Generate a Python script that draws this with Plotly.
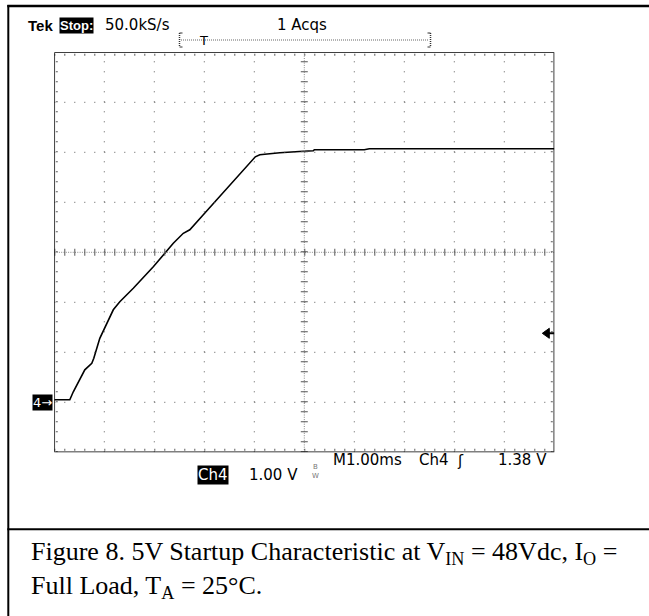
import plotly.graph_objects as go

W, H = 649, 616

# ---- data (time in ms from left edge of screen, Ch4 voltage in V) ----
time_ms = [0.00, 0.31, 0.38, 0.61, 0.75, 0.79, 0.91, 1.01, 1.08, 1.18, 1.31, 1.58,
           1.98, 2.18, 2.38, 2.58, 2.71, 2.98, 3.25, 3.71, 4.02, 4.11, 4.51, 4.98,
           5.18, 5.20, 6.20, 6.30, 10.00]
volts = [0.05, 0.05, 0.21, 0.65, 0.78, 0.88, 1.28, 1.48, 1.65, 1.85, 2.01, 2.28,
         2.71, 2.95, 3.18, 3.38, 3.45, 3.75, 4.05, 4.55, 4.91, 4.95, 4.99, 5.02,
         5.03, 5.05, 5.05, 5.07, 5.07]

x_divs = list(range(0, 11))      # 1.00 ms / div
y_divs = list(range(-1, 8))      # 1.00 V / div
x_center = 5
y_center = 3
ch4_ground = 0.0
trigger_level = 1.38

header_texts = ["Tek", "Stop:", "50.0kS/s", "1 Acqs"]
footer_texts = ["M1.00ms", "Ch4", "1.38 V", "Ch4", "1.00 V"]
caption = ("Figure 8. 5V Startup Characteristic at V<sub>IN</sub> = 48Vdc, I<sub>O</sub> ="
           "<br>Full Load, T<sub>A</sub> = 25°C.")


def px(x):
    return x / W


def py(y):
    return 1 - y / H


PL, PR, PT, PB = 54.3, 554.3, 52.3, 452.3

fig = go.Figure()
fig.add_trace(go.Scatter(x=time_ms, y=volts, mode="lines",
                         line=dict(color="black", width=1.6),
                         hoverinfo="skip", showlegend=False))

shapes = []
GRID = "#5a5a5a"
# dotted graticule
for xv in x_divs[1:-1]:
    if xv == x_center:
        continue
    shapes.append(dict(type="line", xref="x", yref="y", x0=xv, x1=xv,
                       y0=y_divs[0], y1=y_divs[-1],
                       line=dict(color=GRID, width=1, dash="1px,9px")))
for yv in y_divs[1:-1]:
    if yv == y_center:
        continue
    shapes.append(dict(type="line", xref="x", yref="y", y0=yv, y1=yv,
                       x0=x_divs[0], x1=x_divs[-1],
                       line=dict(color=GRID, width=1, dash="1px,9px")))
# center cross: dense dots + tick marks
shapes.append(dict(type="line", xref="x", yref="y", x0=x_center, x1=x_center,
                   y0=y_divs[0], y1=y_divs[-1],
                   line=dict(color="#888888", width=1, dash="1px,1.3px")))
shapes.append(dict(type="line", xref="x", yref="y", y0=y_center, y1=y_center,
                   x0=x_divs[0], x1=x_divs[-1],
                   line=dict(color="#888888", width=1, dash="1px,1.3px")))
shapes.append(dict(type="line", xref="x", yref="y", x0=x_center, x1=x_center,
                   y0=y_divs[0], y1=y_divs[-1],
                   line=dict(color="#555555", width=7, dash="1px,9px")))
shapes.append(dict(type="line", xref="x", yref="y", y0=y_center, y1=y_center,
                   x0=x_divs[0], x1=x_divs[-1],
                   line=dict(color="#555555", width=7, dash="1px,9px")))
# edge ticks
shapes.append(dict(type="line", xref="x", xsizemode="pixel", xanchor=x_divs[0],
                   x0=2.5, x1=2.5, yref="y", y0=y_divs[0], y1=y_divs[-1],
                   line=dict(color=GRID, width=2, dash="1px,9px")))
shapes.append(dict(type="line", xref="x", xsizemode="pixel", xanchor=x_divs[-1],
                   x0=-2.5, x1=-2.5, yref="y", y0=y_divs[0], y1=y_divs[-1],
                   line=dict(color=GRID, width=2, dash="1px,9px")))
shapes.append(dict(type="line", yref="y", ysizemode="pixel", yanchor=y_divs[-1],
                   y0=-2.5, y1=-2.5, xref="x", x0=x_divs[0], x1=x_divs[-1],
                   line=dict(color=GRID, width=2, dash="1px,9px")))
shapes.append(dict(type="line", yref="y", ysizemode="pixel", yanchor=y_divs[0],
                   y0=2.5, y1=2.5, xref="x", x0=x_divs[0], x1=x_divs[-1],
                   line=dict(color=GRID, width=2, dash="1px,9px")))
# frame
shapes.append(dict(type="rect", xref="x", yref="y", x0=x_divs[0], x1=x_divs[-1],
                   y0=y_divs[0], y1=y_divs[-1], line=dict(color="black", width=1.5)))
# trigger level arrow at right edge
shapes.append(dict(type="path", xref="x", yref="y", xsizemode="pixel", ysizemode="pixel",
                   xanchor=x_divs[-1], yanchor=trigger_level,
                   path="M-12,0 L-5,5 L-5,-5 Z", fillcolor="black",
                   line=dict(color="black", width=1)))
shapes.append(dict(type="line", xref="x", yref="y", xsizemode="pixel", ysizemode="pixel",
                   xanchor=x_divs[-1], yanchor=trigger_level, x0=-6, x1=0, y0=0, y1=0,
                   line=dict(color="black", width=2)))
# trigger position bracket
shapes.append(dict(type="line", xref="paper", yref="paper", x0=px(181), x1=px(428),
                   y0=py(40), y1=py(40), line=dict(color="#666666", width=1, dash="1px,1px")))
for bx, d in [(179.5, 1), (430.5, -1)]:
    shapes.append(dict(type="line", xref="paper", yref="paper", x0=px(bx), x1=px(bx),
                       y0=py(33), y1=py(47), line=dict(color="#333333", width=1.5, dash="1px,1px")))
    shapes.append(dict(type="line", xref="paper", yref="paper", x0=px(bx), x1=px(bx + 3 * d),
                       y0=py(47), y1=py(47), line=dict(color="#333333", width=1)))
    shapes.append(dict(type="line", xref="paper", yref="paper", x0=px(bx), x1=px(bx + 3 * d),
                       y0=py(33), y1=py(33), line=dict(color="#333333", width=1)))
# outer box
shapes.append(dict(type="line", xref="paper", yref="paper", x0=px(8.3), x1=px(8.3),
                   y0=py(5), y1=py(616), line=dict(color="black", width=2)))
shapes.append(dict(type="line", xref="paper", yref="paper", x0=px(7.3), x1=px(700),
                   y0=py(6), y1=py(6), line=dict(color="black", width=2.5)))
shapes.append(dict(type="line", xref="paper", yref="paper", x0=px(7.3), x1=px(700),
                   y0=py(529.3), y1=py(529.3), line=dict(color="black", width=2)))

SANS = "DejaVu Sans"
ann = []


def text(t, x, y, size=15, xanchor="center", color="black", family=SANS, bg=None, **kw):
    d = dict(text=t, xref="paper", yref="paper", x=px(x), y=py(y), xanchor=xanchor,
             yanchor="middle", showarrow=False,
             font=dict(family=family, size=size, color=color))
    if bg:
        d.update(bgcolor=bg, borderpad=0)
    d.update(kw)
    ann.append(d)


text("<b>" + header_texts[0] + "</b>", 40.5, 25, size=15, family="Liberation Sans")
text("<b>" + header_texts[1] + "</b>", 76, 25, size=13, family="Liberation Sans Narrow, Liberation Sans",
     color="white", bg="black")
text(header_texts[2], 137.5, 25, size=15)
text(header_texts[3], 302, 25, size=15)
text("T", 203.5, 40, size=13)

text(footer_texts[0], 367, 460, size=15)
text(footer_texts[1], 417, 460, size=15, xanchor="left")
text("ʃ", 460, 461, size=15)
text(footer_texts[2], 549, 460, size=15, xanchor="right")
text(footer_texts[3], 212.5, 475, size=15, color="white", bg="black")
text(footer_texts[4], 273.5, 475, size=15)
text("B<br>W", 315, 471, size=7, color="#777777")

# channel ground marker
ann.append(dict(text="4→", xref="x", yref="y", x=x_divs[0], y=ch4_ground, xanchor="right",
                yanchor="middle", xshift=-1, showarrow=False, bgcolor="black", borderpad=0,
                font=dict(family=SANS, size=13, color="white")))

# caption
text(caption, 29, 569.5, size=26, xanchor="left", family="Liberation Serif", align="left")

fig.update_layout(
    width=W, height=H, margin=dict(l=0, r=0, t=0, b=0),
    paper_bgcolor="white", plot_bgcolor="white", showlegend=False,
    xaxis=dict(range=[x_divs[0], x_divs[-1]], domain=[px(PL), px(PR)], visible=False, fixedrange=True),
    yaxis=dict(range=[y_divs[0], y_divs[-1]], domain=[py(PB), py(PT)], visible=False, fixedrange=True),
    shapes=shapes, annotations=ann,
)

fig.write_html("out.html", config={"displayModeBar": False, "staticPlot": True},
               post_script="document.body.style.margin='0';document.body.style.overflow='hidden';")
